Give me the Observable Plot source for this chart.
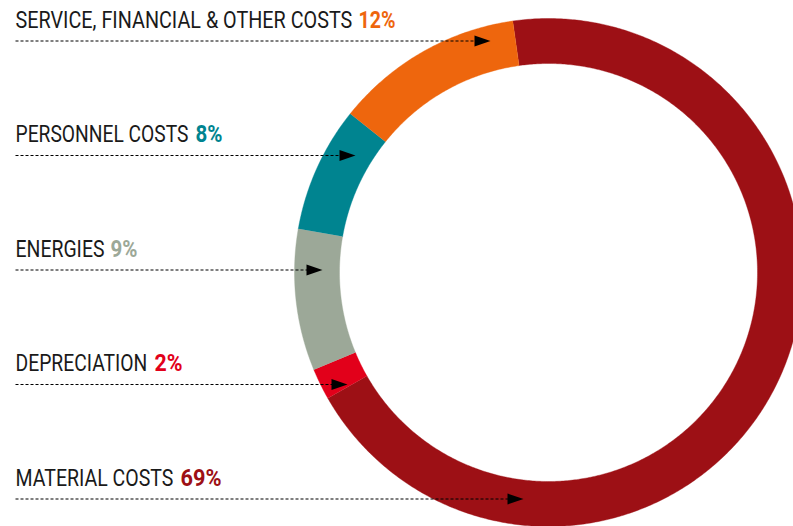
<!DOCTYPE html>
<html>
<head>
<meta charset="utf-8">
<script src="https://cdn.jsdelivr.net/npm/d3@7"></script>
<script src="https://cdn.jsdelivr.net/npm/@observablehq/plot@0.6"></script>
<style>
  html, body { margin: 0; padding: 0; background: #fff; }
  #chart svg { display: block; }
</style>
</head>
<body>
<div id="chart"></div>
<script>
// ---- data (clockwise order around the ring, starting with material costs) ----
const categories = ["MATERIAL COSTS", "DEPRECIATION", "ENERGIES", "PERSONNEL COSTS", "SERVICE, FINANCIAL & OTHER COSTS"];
const values = [69, 2, 9, 8, 12];
const colors = ["#9D1015", "#E2001A", "#9CA898", "#008490", "#EE660D"];
// label order, top to bottom
const labelOrder = ["SERVICE, FINANCIAL & OTHER COSTS", "PERSONNEL COSTS", "ENERGIES", "DEPRECIATION", "MATERIAL COSTS"];

// ---- layout ----
const W = 793, H = 526;
const cx = 548, cy = 272, rOuter = 254, rInner = 209;
const startAngle = -8.1;           // degrees, clockwise from 12 o'clock
const labelX = 15, labelTop = 27, labelStep = 114.5, lineOffset = 13.5;
const arrowTipX = {"SERVICE, FINANCIAL & OTHER COSTS": 490, "PERSONNEL COSTS": 355, "ENERGIES": 322, "DEPRECIATION": 347, "MATERIAL COSTS": 523};
const nameWidth = {"SERVICE, FINANCIAL & OTHER COSTS": 337, "PERSONNEL COSTS": 173, "ENERGIES": 89, "DEPRECIATION": 132, "MATERIAL COSTS": 158};
const pctX = {"SERVICE, FINANCIAL & OTHER COSTS": 358, "PERSONNEL COSTS": 195, "ENERGIES": 110, "DEPRECIATION": 154, "MATERIAL COSTS": 180};
const pctWidth = {"SERVICE, FINANCIAL & OTHER COSTS": 37, "PERSONNEL COSTS": 27, "ENERGIES": 27, "DEPRECIATION": 28, "MATERIAL COSTS": 41};

// ---- ring polygons from the values ----
const pie = d3.pie().sort(null).value(d => d.value)
  .startAngle(startAngle * Math.PI / 180)
  .endAngle((startAngle + 360) * Math.PI / 180);
const slices = pie(categories.map((c, i) => ({name: c, value: values[i], color: colors[i]})));
const ringPts = [];
for (const s of slices) {
  const n = Math.max(8, Math.ceil((s.endAngle - s.startAngle) * 180 / Math.PI * 2));
  const pts = [];
  for (let k = 0; k <= n; k++) pts.push({a: s.startAngle + (s.endAngle - s.startAngle) * k / n, r: rOuter});
  for (let k = n; k >= 0; k--) pts.push({a: s.startAngle + (s.endAngle - s.startAngle) * k / n, r: rInner});
  for (const p of pts) {
    ringPts.push({name: s.data.name, color: s.data.color,
      x: cx + p.r * Math.sin(p.a), y: cy - p.r * Math.cos(p.a)});
  }
}

// ---- labels & arrows ----
const labels = labelOrder.map((name, i) => {
  const idx = categories.indexOf(name);
  return {name, pct: values[idx] + "%", color: colors[idx],
    y: labelTop + i * labelStep, ly: labelTop + i * labelStep + lineOffset,
    tip: arrowTipX[name], px: pctX[name]};
});

const arrowHead = {
  draw(ctx) {
    ctx.moveTo(0, 0);
    ctx.lineTo(-16, -5.5);
    ctx.lineTo(-16, 5.5);
    ctx.closePath();
  }
};

const chart = Plot.plot({
  width: W, height: H,
  margin: 0,
  x: {domain: [0, W], range: [0, W], axis: null},
  y: {domain: [0, H], range: [0, H], axis: null},
  color: {type: "identity"},
  style: {background: "#fff", overflow: "visible"},
  marks: [
    Plot.line(ringPts, {x: "x", y: "y", z: "name", fill: "color", stroke: "color", strokeWidth: 0.4, curve: "linear"}),
    Plot.link(labels, {x1: labelX, x2: d => d.tip - 14, y1: "ly", y2: "ly", stroke: "#000", strokeWidth: 1.1, strokeDasharray: "3,2"}),
    Plot.dot(labels, {x: "tip", y: "ly", symbol: arrowHead, r: 4, fill: "#000", stroke: "none"}),
    Plot.text(labels, {x: labelX, y: "y", text: "name", textAnchor: "start", lineAnchor: "bottom",
      fontSize: 24, fontFamily: "Roboto", fontWeight: 400, fill: "#1a1a1a", className: "lbl-name"}),
    Plot.text(labels, {x: "px", y: "y", text: "pct", textAnchor: "start", lineAnchor: "bottom",
      fontSize: 24, fontFamily: "Roboto", fontWeight: 700, fill: "color", className: "lbl-pct"})
  ]
});

document.getElementById("chart").appendChild(chart);

// condense the label glyphs horizontally to the reference widths (real transform, so boxes shrink too)
function condense(selector, widths) {
  chart.querySelectorAll(selector + " text").forEach((t, i) => {
    const natural = t.getComputedTextLength();
    const target = widths[labels[i].name];
    if (!natural || !target) return;
    const sx = target / natural;
    const xAttr = t.getAttribute("x");
    if (xAttr != null) t.setAttribute("x", (+xAttr) / sx);
    const tr = t.getAttribute("transform") || "";
    t.setAttribute("transform", (tr + ` scale(${sx},1)`).trim());
  });
}
condense(".lbl-name", nameWidth);
condense(".lbl-pct", pctWidth);
</script>
</body>
</html>
